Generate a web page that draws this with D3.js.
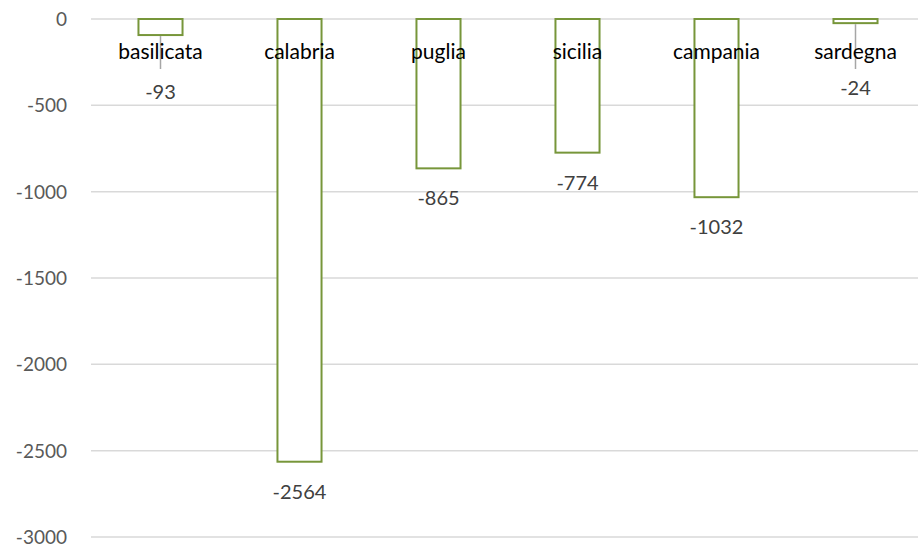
<!DOCTYPE html>
<html><head><meta charset="utf-8">
<script src="https://cdn.jsdelivr.net/npm/d3@7"></script>
<style>body{margin:0;background:#fff;}svg{display:block;font-family:Lato,"Open Sans",sans-serif;}</style>
</head><body>
<svg id="c" width="918" height="545"></svg>
<script>
const categories = ["basilicata","calabria","puglia","sicilia","campania","sardegna"];
const values = [-93,-2564,-865,-774,-1032,-24];
const yTicks = [0,-500,-1000,-1500,-2000,-2500,-3000];

const svg = d3.select("#c");
const x = d3.scaleBand().domain(categories).range([91, 925]).paddingInner(0.683).paddingOuter(0.3415);
const y = d3.scaleLinear().domain([-3000, 0]).range([537, 19]);
const fmt = d => String(d); // hyphen-minus as in the reference

// gridlines
svg.append("g").selectAll("line").data(yTicks).join("line")
  .attr("x1", 91).attr("x2", 918)
  .attr("y1", d => y(d)).attr("y2", d => y(d))
  .attr("stroke", "#d9d9d9").attr("stroke-width", 1.5);

// y axis labels
const yAxis = d3.axisLeft(y).tickValues(yTicks).tickSize(0).tickPadding(0).tickFormat(fmt);
const ga = svg.append("g").attr("transform", "translate(67,0)").call(yAxis);
ga.select(".domain").remove();
ga.selectAll("text").attr("font-size", 19).attr("fill", "#595959")
  .attr("font-family", "Lato,'Open Sans',sans-serif").attr("dy", "0.35em");

// bars
svg.append("g").selectAll("rect").data(values).join("rect")
  .attr("x", (d,i) => x(categories[i]))
  .attr("y", y(0))
  .attr("width", x.bandwidth())
  .attr("height", d => y(d) - y(0))
  .attr("fill", "#fff").attr("stroke", "#77963a").attr("stroke-width", 2);

// leader lines for small values
const small = values.map((d,i) => ({d,i})).filter(o => y(o.d) - y(0) < 30);
svg.append("g").selectAll("line").data(small).join("line")
  .attr("x1", o => x(categories[o.i]) + x.bandwidth()/2)
  .attr("x2", o => x(categories[o.i]) + x.bandwidth()/2)
  .attr("y1", o => y(o.d) + 1).attr("y2", 69)
  .attr("stroke", "#a6a6a6").attr("stroke-width", 1.5);

// category labels
svg.append("g").selectAll("text").data(categories).join("text")
  .attr("x", d => x(d) + x.bandwidth()/2)
  .attr("y", 59)
  .attr("text-anchor", "middle").attr("font-size", 21).attr("fill", "#000")
  .text(d => d);

// value labels
svg.append("g").selectAll("text").data(values).join("text")
  .attr("x", (d,i) => x(categories[i]) + x.bandwidth()/2)
  .attr("y", (d,i) => (y(d) - y(0) < 30) ? (i === 0 ? 99 : 95) : y(d) + 37)
  .attr("text-anchor", "middle").attr("font-size", 20).attr("fill", "#404040")
  .text(fmt);
</script>
</body></html>
